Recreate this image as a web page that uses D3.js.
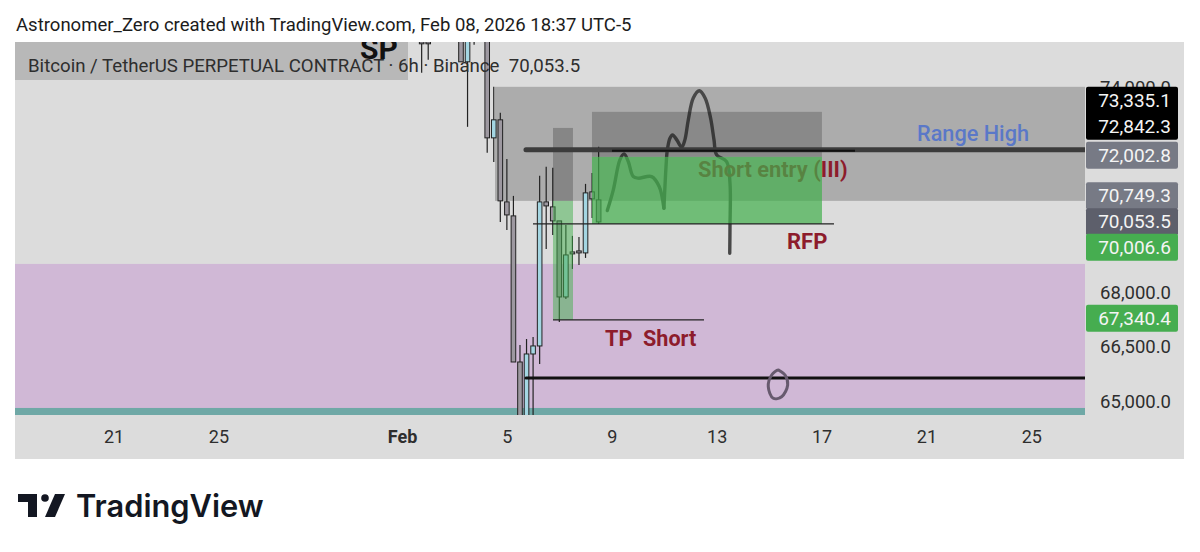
<!DOCTYPE html>
<html>
<head>
<meta charset="utf-8">
<style>
  html, body { margin: 0; padding: 0; background: #fff; }
  text { font-family: Roboto, sans-serif; }
  .axis .domain, .axis line { display: none; }
</style>
<script src="https://cdn.jsdelivr.net/npm/d3@7"></script>
</head>
<body>
<div id="chart"></div>
<script>
// 6h candles
const candleTimes = ["2026-02-01T18:00Z","2026-02-02T00:00Z","2026-02-03T06:00Z","2026-02-03T12:00Z","2026-02-03T18:00Z",
  "2026-02-04T06:00Z","2026-02-04T12:00Z","2026-02-04T18:00Z","2026-02-05T00:00Z","2026-02-05T06:00Z","2026-02-05T12:00Z",
  "2026-02-05T18:00Z","2026-02-06T00:00Z","2026-02-06T06:00Z","2026-02-06T12:00Z","2026-02-06T18:00Z","2026-02-07T00:00Z",
  "2026-02-07T06:00Z","2026-02-07T12:00Z","2026-02-07T18:00Z","2026-02-08T00:00Z","2026-02-08T06:00Z","2026-02-08T12:00Z"];
const opens  = [75426,75426,76500,74805,76700,77000,72492,73034,70600,70193,66083,64000,66302,66522,70600,70455,70048,67882,69156,69185,69128,70893,70658];
const highs  = [76000,76000,76800,77000,77000,77500,74036,73245,71865,70775,66549,66714,66769,71363,71629,71599,70048,69932,69616,69586,71127,71451,72223];
const lows   = [74465,74866,74805,72823,75332,72044,71776,70019,69788,66083,63500,63500,63500,66028,69242,69644,67185,67826,68672,68786,68985,70134,69961];
const closes = [75363,75363,74805,76500,76500,72492,73034,70630,70221,66083,64000,66302,66522,70600,70483,70048,67882,69070,69100,69128,70863,70688,70019];

// price scale
const priceTicks = [74000, 68000, 66500, 65000];
const labelValues = [73335.1, 72842.3, 72002.8, 70749.3, 70053.5, 70006.6, 67340.4];
const labelColors = ["#000000", "#000000", "#777a85", "#777a85", "#5d5f6b", "#46ad50", "#46ad50"];

// time scale, in days of February
const dayTicks = [-10, -6, 1, 5, 9, 13, 17, 21, 25];
const dayLabels = ["21", "25", "Feb", "5", "9", "13", "17", "21", "25"];

// hand drawn path on the chart
const sketchADays   = [8.83,9.06,9.31,9.47,9.63,9.82,10.01,10.52,10.81,10.99];
const sketchAPrices = [70347,70951,71836,72015,71786,71342,71295,71342,71048,70417];
const sketchBDays   = [10.99,11.07,11.12,11.22,11.32,11.48,11.67,11.79,11.92,12.11,12.34,12.56,12.77,12.90,13.0,13.38,13.51,13.51,13.50];
const sketchBPrices = [70417,71637,72134,72483,72582,72432,72214,72432,73034,73692,73914,73692,73085,72432,71985,71786,71148,69883,69120];
const ringDays   = [15.35,15.10,14.97,15.16,15.48,15.71,15.61,15.42];
const ringPrices = [65865,65729,65412,65100,65143,65458,65729,65838];

const width = 1200, height = 552,
    pane = ({ left: 15, right: 1085, top: 42, bottom: 415, axisBottom: 459, scaleRight: 1184 });

const feb = d => new Date(Date.UTC(2026, 1, 1) + (d - 1) * 864e5);

const x = d3.scaleUtc()
    .domain([feb(-13.76), feb(27.05)])
    .range([pane.left, pane.right]);

const y = d3.scaleLog()   // the chart is on a log price scale
    .domain([65000, 74000])
    .range([402, 88]);

const svg = d3.select("#chart")
    .append("svg")
    .attr("width", width)
    .attr("height", height)
    .style("display", "block");

svg.append("defs").append("clipPath").attr("id", "pane")
    .append("rect")
    .attr("x", pane.left).attr("y", pane.top)
    .attr("width", pane.right - pane.left).attr("height", pane.bottom - pane.top);

svg.append("text")
    .attr("x", 16).attr("y", 31)
    .attr("font-size", 18.55).attr("fill", "#1c1c1c")
    .text("Astronomer_Zero created with TradingView.com, Feb 08, 2026 18:37 UTC-5");

svg.append("rect")
    .attr("x", pane.left).attr("y", pane.top)
    .attr("width", pane.scaleRight - pane.left).attr("height", pane.axisBottom - pane.top)
    .attr("fill", "#dcdcdc");

// legend bar
svg.append("rect")
    .attr("x", pane.left).attr("y", pane.top)
    .attr("width", 393).attr("height", 38)
    .attr("fill", "#b8b8b8");

const plot = svg.append("g").attr("clip-path", "url(#pane)");

// box between two days and two prices
function zone(d0, d1, p0, p1, fill) {
    plot.append("rect")
        .attr("x", x(feb(d0))).attr("y", y(p0))
        .attr("width", x(feb(d1)) - x(feb(d0))).attr("height", y(p1) - y(p0))
        .attr("fill", fill);
}

function trendLine(d0, d1, price, color, w, cap) {
    plot.append("line")
        .attr("x1", x(feb(d0))).attr("x2", x(feb(d1)))
        .attr("y1", y(price)).attr("y2", y(price))
        .attr("stroke", color).attr("stroke-width", w)
        .attr("stroke-linecap", cap || "butt");
}

zone(-14, 28, 68814, 64840, "#d0b8d6");  // purple zone
zone(-14, 28, 64840, 64400, "#6fa8a6");  // teal strip
zone(4.547, 28, 74036, 70630, "#acacac");

plot.append("text")
    .attr("x", 360).attr("y", 59)
    .attr("font-size", 30).attr("font-weight", 700).attr("fill", "#111")
    .text("SP");

// candles
const candles = candleTimes.map((t, i) => ({ t: new Date(t), o: opens[i], h: highs[i], l: lows[i], c: closes[i] }));
const bodyWidth = 4.6;

plot.append("g").selectAll("line").data(candles).join("line")
    .attr("x1", d => x(d.t)).attr("x2", d => x(d.t))
    .attr("y1", d => y(d.h)).attr("y2", d => y(d.l))
    .attr("stroke", "#222").attr("stroke-width", 1.2);

plot.append("g").selectAll("rect").data(candles).join("rect")
    .attr("x", d => x(d.t) - bodyWidth / 2)
    .attr("y", d => y(Math.max(d.o, d.c)))
    .attr("width", bodyWidth)
    .attr("height", d => Math.max(1, Math.abs(y(d.o) - y(d.c))))
    .attr("fill", d => d.c > d.o ? "#a4d6e2" : "#9d98a0")
    .attr("stroke", "#222").attr("stroke-width", 1);

// hand drawing and text sit under the green boxes
const sketch = d3.line()
    .x(d => x(feb(d[0])))
    .y(d => y(d[1]))
    .curve(d3.curveCatmullRom);

[[sketchADays, sketchAPrices], [sketchBDays, sketchBPrices]].forEach(s => {
    plot.append("path")
        .attr("d", sketch(s[0].map((d, i) => [d, s[1][i]])))
        .attr("fill", "none").attr("stroke", "#484848")
        .attr("stroke-width", 3.4).attr("stroke-linecap", "round");
});

plot.append("text")
    .attr("x", 698).attr("y", 177)
    .attr("font-size", 21.8).attr("font-weight", 700).attr("fill", "#8d1c2c")
    .text("Short entry (III)");

zone(8.246, 17.018, 73275, 71925, "rgba(0,0,0,0.2)");
zone(8.246, 17.018, 71925, 69961, "rgba(66,175,75,0.7)");
zone(6.759, 7.522, 72790, 70630, "rgba(0,0,0,0.22)");
zone(6.759, 7.522, 70630, 67240, "rgba(66,175,75,0.5)");

trendLine(5.729, 28, 72134, "#3c3c3c", 5, "round");
trendLine(9.009, 18.277, 72110, "#111", 2);
trendLine(5.996, 17.476, 69961, "#222", 1.3);
trendLine(6.759, 12.518, 67240, "#222", 1.3);
trendLine(5.729, 28, 65648, "#111", 3, "round");

plot.append("path")
    .attr("d", d3.line().x(d => x(feb(d[0]))).y(d => y(d[1])).curve(d3.curveCatmullRomClosed)(ringDays.map((d, i) => [d, ringPrices[i]])))
    .attr("fill", "none").attr("stroke", "#675a6e").attr("stroke-width", 3);

svg.append("text")
    .attr("x", 28).attr("y", 72)
    .attr("font-size", 18.65).attr("fill", "#2e2e2e")
    .style("white-space", "pre")
    .text("Bitcoin / TetherUS PERPETUAL CONTRACT · 6h · Binance  70,053.5");

// text notes
const redText = "#8d1c2c";
[["Range High", 917, 141, "#5a78c8", 21.7], ["RFP", 787, 249, redText, 22], ["TP  Short", 605, 346, redText, 21.6]].forEach(n => {
    svg.append("text")
        .attr("x", n[1]).attr("y", n[2])
        .attr("font-size", n[4]).attr("font-weight", n[0] == "Range High" ? 500 : 700)
        .attr("fill", n[3]).style("white-space", "pre")
        .text(n[0]);
});

// axes
svg.append("g")
    .attr("class", "axis")
    .attr("transform", `translate(0,${pane.bottom})`)
    .call(d3.axisBottom(x)
        .tickValues(dayTicks.map(feb))
        .tickFormat((d, i) => dayLabels[i])
        .tickSize(0)
        .tickPadding(15))
    .call(g => g.selectAll("text")
        .attr("font-size", 18).attr("fill", "#2e2e2e")
        .attr("font-weight", (d, i) => dayLabels[i] == "Feb" ? 700 : 400)
        .style("font-family", "Roboto, sans-serif"));

svg.append("g")
    .attr("class", "axis")
    .attr("transform", `translate(${pane.right},0)`)
    .call(d3.axisRight(y)
        .tickValues(priceTicks)
        .tickFormat(d3.format(",.1f"))
        .tickSize(0)
        .tickPadding(0))
    .call(g => g.selectAll("text")
        .attr("x", 86).attr("text-anchor", "end")
        .attr("font-size", 18.5).attr("fill", "#2e2e2e")
        .style("font-family", "Roboto, sans-serif"));

// price tags are pushed apart so they do not overlap
const labelShift = [-9.5, 0, 1, -1, 1, 25, 2];
const tagHeight = 27;
const tags = svg.append("g").selectAll("g").data(labelValues).join("g")
    .attr("transform", (d, i) => `translate(${pane.right + 1},${y(d) + labelShift[i]})`);

tags.append("rect")
    .attr("y", -tagHeight / 2)
    .attr("width", 92).attr("height", tagHeight)
    .attr("rx", 2)
    .attr("fill", (d, i) => labelColors[i]);

// the two black tags read as one block
tags.filter((d, i) => i == 0).append("rect")
    .attr("y", 0)
    .attr("width", 92).attr("height", tagHeight)
    .attr("fill", labelColors[0]);

tags.append("text")
    .attr("x", 85).attr("y", 6.5)
    .attr("text-anchor", "end")
    .attr("font-size", 19).attr("fill", "#f4f4f4")
    .text(d3.format(",.1f"));

// TradingView mark
const logo = svg.append("g").attr("fill", "#131722");
logo.append("path").attr("d", "M18 494H37V517H28V502H18Z");
logo.append("circle").attr("cx", 45).attr("cy", 498).attr("r", 3.8);
logo.append("path").attr("d", "M55 494H65L55 517H45Z");
logo.append("text")
    .attr("x", 76).attr("y", 517)
    .attr("font-size", 30.8).attr("font-weight", 600)
    .style("font-family", "Inter, sans-serif")
    .text("TradingView");
</script>
</body>
</html>
